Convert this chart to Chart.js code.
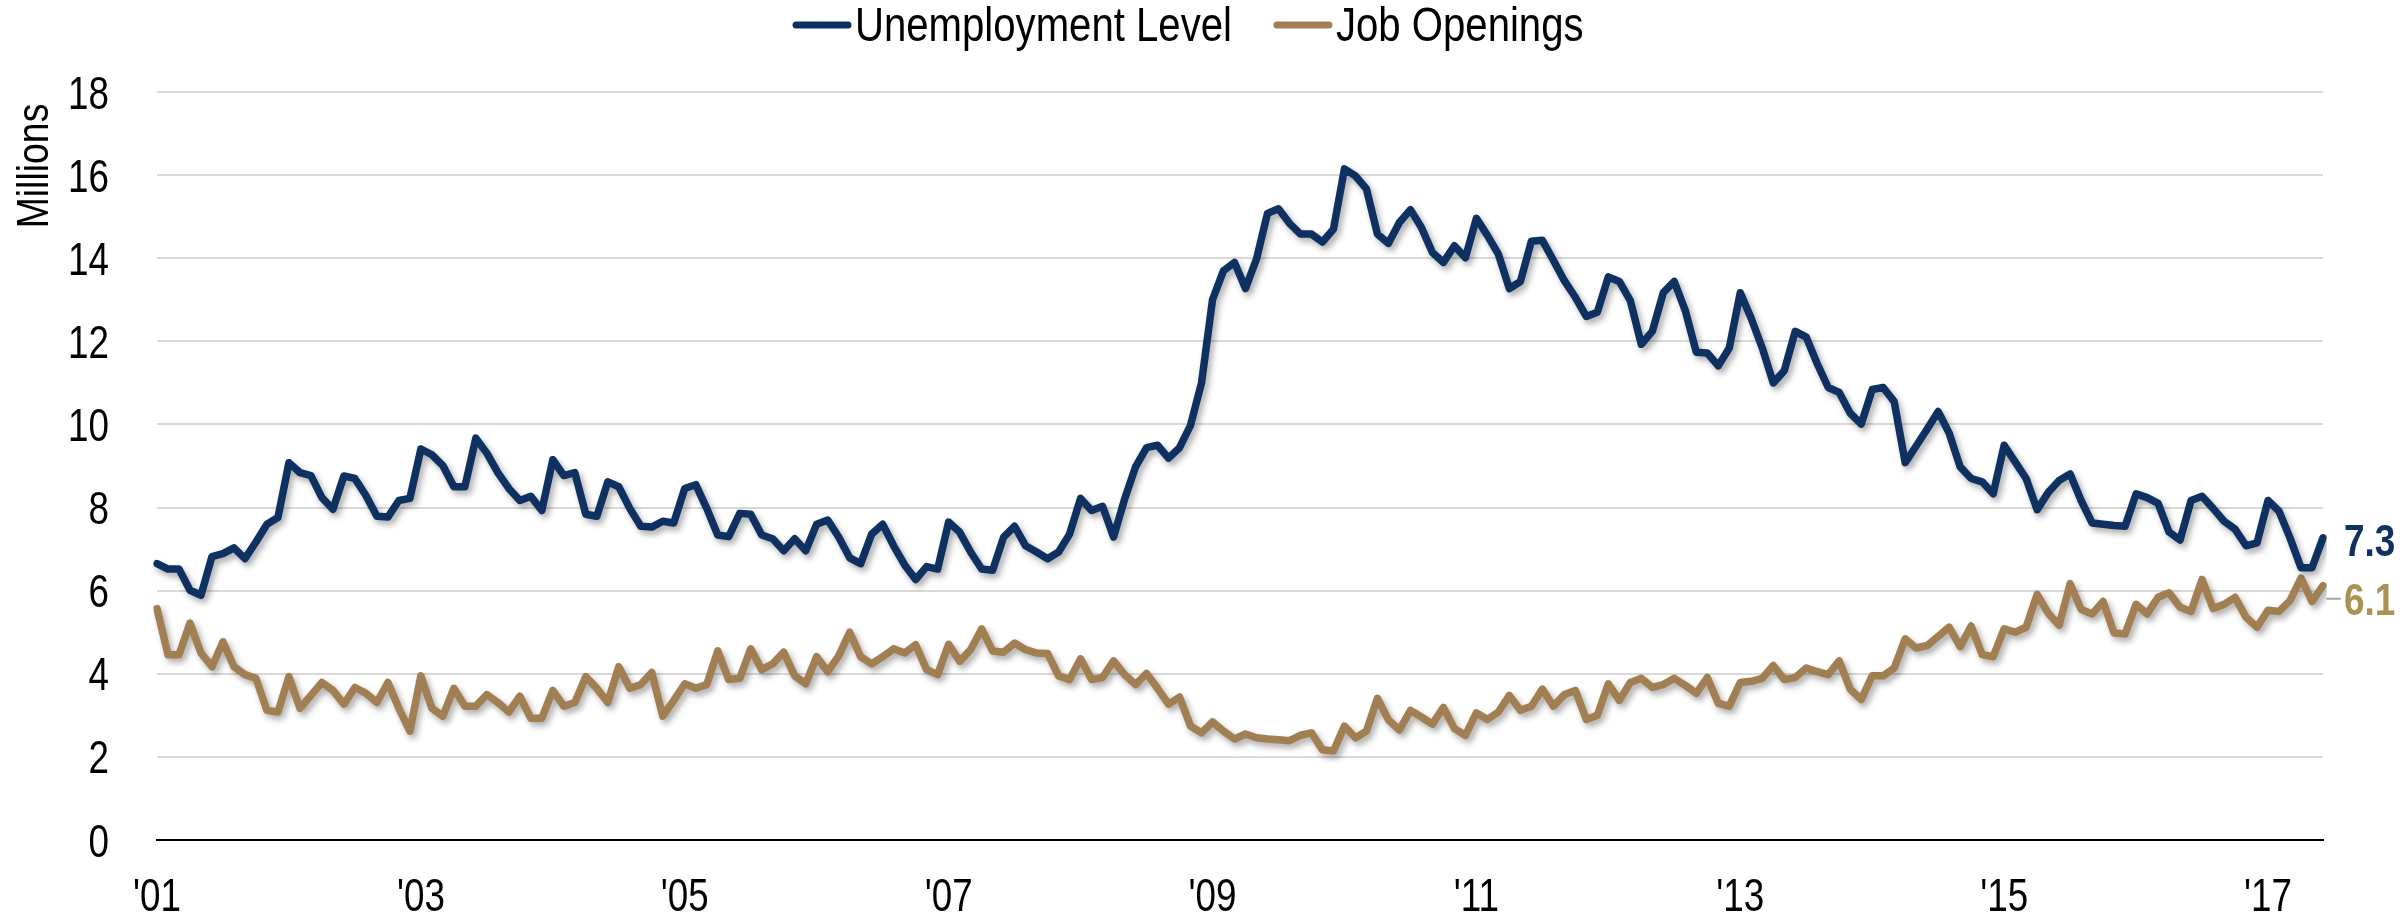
<!DOCTYPE html>
<html>
<head>
<meta charset="utf-8">
<title>Unemployment Level vs Job Openings</title>
<script src="https://cdn.jsdelivr.net/npm/chart.js@4.4.0/dist/chart.umd.min.js"></script>
<style>
  html, body { margin: 0; padding: 0; background: #fff; }
  #wrap { width: 2400px; height: 919px; }
</style>
</head>
<body>
<div id="wrap"><canvas id="jobsChart" width="2400" height="919"></canvas></div>
<script>
// monthly values, millions, jan 2001 - jun 2017
const unemployment = [
  6.65, 6.52, 6.52, 6.01, 5.89, 6.82, 6.89, 7.03, 6.77, 7.17, 7.6, 7.76,
  9.08, 8.84, 8.77, 8.24, 7.96, 8.76, 8.7, 8.29, 7.79, 7.77, 8.17, 8.22,
  9.41, 9.27, 9.01, 8.5, 8.5, 9.67, 9.31, 8.84, 8.46, 8.17, 8.27, 7.93,
  9.15, 8.77, 8.84, 7.84, 7.79, 8.62, 8.5, 7.98, 7.55, 7.53, 7.67, 7.63,
  8.46, 8.55, 7.98, 7.34, 7.3, 7.86, 7.84, 7.34, 7.25, 6.96, 7.25, 6.96,
  7.6, 7.7, 7.29, 6.79, 6.65, 7.36, 7.6, 7.08, 6.62, 6.27, 6.58, 6.52,
  7.65, 7.41, 6.93, 6.52, 6.49, 7.29, 7.55, 7.08, 6.93, 6.77, 6.93, 7.36,
  8.22, 7.93, 8.03, 7.29, 8.2, 8.98, 9.44, 9.5, 9.19, 9.44, 9.98, 11.0,
  13.0, 13.7, 13.9, 13.27, 13.98, 15.08, 15.19, 14.84, 14.58, 14.58, 14.39, 14.7,
  16.15, 15.98, 15.67, 14.58, 14.36, 14.86, 15.17, 14.74, 14.14, 13.9, 14.3, 14.01,
  14.96, 14.55, 14.1, 13.27, 13.44, 14.41, 14.43, 13.95, 13.46, 13.06, 12.6, 12.7,
  13.55, 13.44, 12.98, 11.93, 12.24, 13.17, 13.44, 12.74, 11.74, 11.72, 11.41, 11.84,
  13.17, 12.55, 11.84, 11.0, 11.29, 12.24, 12.1, 11.46, 10.89, 10.77, 10.27, 10.01,
  10.84, 10.89, 10.55, 9.08, 9.48, 9.89, 10.31, 9.79, 8.98, 8.7, 8.62, 8.33,
  9.5, 9.1, 8.7, 7.95, 8.36, 8.65, 8.81, 8.17, 7.63, 7.6, 7.57, 7.55,
  8.33, 8.24, 8.1, 7.41, 7.22, 8.17, 8.27, 7.98, 7.67, 7.48, 7.08, 7.15,
  8.17, 7.91, 7.27, 6.55, 6.55, 7.27
];

const jobOpenings = [
  5.57, 4.46, 4.46, 5.22, 4.5, 4.17, 4.77, 4.17, 3.98, 3.89, 3.12, 3.08,
  3.93, 3.17, 3.48, 3.79, 3.6, 3.27, 3.67, 3.53, 3.31, 3.79, 3.17, 2.62,
  3.95, 3.17, 2.98, 3.65, 3.22, 3.22, 3.5, 3.31, 3.08, 3.46, 2.93, 2.93,
  3.6, 3.22, 3.31, 3.93, 3.65, 3.31, 4.17, 3.65, 3.74, 4.03, 2.98, 3.36,
  3.76, 3.65, 3.74, 4.55, 3.86, 3.89, 4.6, 4.1, 4.24, 4.52, 3.95, 3.76,
  4.41, 4.05, 4.43, 5.0, 4.41, 4.24, 4.41, 4.6, 4.5, 4.7, 4.1, 3.98,
  4.71, 4.3, 4.58, 5.08, 4.55, 4.52, 4.74, 4.58, 4.5, 4.49, 3.95, 3.86,
  4.36, 3.86, 3.91, 4.31, 3.98, 3.74, 4.01, 3.65, 3.27, 3.44, 2.74, 2.58,
  2.84, 2.62, 2.43, 2.55, 2.46, 2.43, 2.41, 2.39, 2.52, 2.58, 2.17, 2.14,
  2.74, 2.46, 2.62, 3.41, 2.89, 2.65, 3.12, 2.96, 2.79, 3.19, 2.68, 2.52,
  3.06, 2.9, 3.08, 3.48, 3.12, 3.22, 3.63, 3.22, 3.5, 3.6, 2.9, 3.0,
  3.76, 3.36, 3.79, 3.89, 3.67, 3.74, 3.89, 3.72, 3.53, 3.91, 3.29, 3.22,
  3.79, 3.82, 3.89, 4.2, 3.86, 3.91, 4.14, 4.05, 3.98, 4.31, 3.63, 3.38,
  3.95, 3.95, 4.14, 4.84, 4.62, 4.68, 4.9, 5.12, 4.65, 5.15, 4.46, 4.41,
  5.08, 5.0, 5.12, 5.91, 5.46, 5.17, 6.17, 5.55, 5.44, 5.74, 4.98, 4.96,
  5.67, 5.44, 5.84, 5.95, 5.6, 5.5, 6.27, 5.57, 5.67, 5.84, 5.36, 5.12,
  5.53, 5.5, 5.76, 6.3, 5.74, 6.12
];

// one label every two years, sitting on january
const tickLabels = ["'01", "'03", "'05", "'07", "'09", "'11", "'13", "'15", "'17"];
const tickEvery = 24;

const months = [];
for (let i = 0; i < unemployment.length; i++) {
  months.push(`${2001 + Math.floor(i / 12)}-${(i % 12) + 1}`);
}

const navy = "#0f3162";
const tan = "#a17f52";
const gold = "#a99253";
const fontFam = "'Liberation Sans', Arial, sans-serif";

// the original text is a squeezed arial, so draw it narrowed
const drawText = (ctx, text, x, y, sx, align) => {
  ctx.save();
  ctx.translate(x, y);
  ctx.scale(sx, 1);
  ctx.textAlign = align;
  ctx.fillText(text, 0, 0);
  ctx.restore();
};

// soft drop shadow under each line like the original
const shadowPlugin = {
  id: "lineShadow",
  beforeDatasetDraw(chart) {
    const ctx = chart.ctx;
    ctx.save();
    ctx.shadowColor = "rgba(0, 0, 0, 0.33)";
    ctx.shadowBlur = 6;
    ctx.shadowOffsetX = 3;
    ctx.shadowOffsetY = 4;
  },
  afterDatasetDraw(chart) {
    chart.ctx.restore();
  },
};

// tick labels, legend, axis title and the end-of-line value labels
const textPlugin = {
  id: "extraText",
  afterDraw(chart) {
    const ctx = chart.ctx;
    const sets = chart.data.datasets;
    const xs = chart.scales.x;
    const ys = chart.scales.y;
    ctx.save();
    ctx.textBaseline = "alphabetic";
    ctx.fillStyle = "#000";

    // y tick labels
    ctx.font = `46px ${fontFam}`;
    ys.ticks.forEach((t) => {
      drawText(ctx, String(t.value), 109, ys.getPixelForValue(t.value) + 16.5, 0.8, "right");
    });

    // x tick labels
    tickLabels.forEach((lab, k) => {
      drawText(ctx, lab, xs.getPixelForValue(k * tickEvery), 911, 0.8, "center");
    });

    // legend on top
    ctx.font = `48px ${fontFam}`;
    const lsx = 0.836, lineLen = 58, gapText = 4, gapItem = 42;
    let x = 793;
    const ly = 25;
    sets.forEach((ds) => {
      ctx.strokeStyle = ds.borderColor;
      ctx.lineWidth = 7;
      ctx.lineCap = "round";
      ctx.beginPath();
      ctx.moveTo(x + 3, ly);
      ctx.lineTo(x + lineLen - 3, ly);
      ctx.stroke();
      x += lineLen + gapText;
      drawText(ctx, ds.label, x, 41, lsx, "left");
      x += ctx.measureText(ds.label).width * lsx + gapItem;
    });

    // y axis title, top aligned
    ctx.save();
    ctx.translate(48, 166);
    ctx.rotate(-Math.PI / 2);
    ctx.font = `44px ${fontFam}`;
    drawText(ctx, "Millions", 0, 0, 0.85, "center");
    ctx.restore();

    // last values at the right end
    const endColors = [navy, gold];
    const endShift = [2, 13];
    ctx.font = `bold 44px ${fontFam}`;
    sets.forEach((ds, i) => {
      const meta = chart.getDatasetMeta(i);
      const pt = meta.data[meta.data.length - 1];
      const val = ds.data[ds.data.length - 1];
      const cy = pt.y + endShift[i];
      if (i === 1) {
        ctx.strokeStyle = "#a6a6a6";
        ctx.lineWidth = 2;
        ctx.beginPath();
        ctx.moveTo(pt.x + 4, cy);
        ctx.lineTo(pt.x + 17, cy);
        ctx.stroke();
      }
      ctx.fillStyle = endColors[i];
      drawText(ctx, val.toFixed(1), pt.x + 21, cy + 16, 0.84, "left");
    });
    ctx.restore();
  },
};

const ctx = document.getElementById("jobsChart");
new Chart(ctx, {
  type: "line",
  data: {
    labels: months,
    datasets: [
      {
        label: "Unemployment Level",
        data: unemployment,
        borderColor: navy,
        backgroundColor: navy,
        borderWidth: 7.5,
        pointRadius: 0,
        tension: 0,
        borderJoinStyle: "round",
        borderCapStyle: "round",
      },
      {
        label: "Job Openings",
        data: jobOpenings,
        borderColor: tan,
        backgroundColor: tan,
        borderWidth: 7.5,
        pointRadius: 0,
        tension: 0,
        borderJoinStyle: "round",
        borderCapStyle: "round",
      },
    ],
  },
  options: {
    responsive: false,
    animation: false,
    devicePixelRatio: 1,
    layout: { padding: { top: 92, right: 77, left: 0, bottom: 0 } },
    plugins: {
      legend: { display: false },
      tooltip: { enabled: false },
    },
    scales: {
      x: {
        offset: false,
        grid: { display: false, drawTicks: false },
        border: { display: true, color: "#000", width: 2 },
        ticks: { display: false, autoSkip: false, maxRotation: 0 },
        afterFit: (scale) => {
          scale.height = 79;
        },
      },
      y: {
        min: 0,
        max: 18,
        grid: {
          drawTicks: false,
          lineWidth: 2,
          color: (c) => (c.tick && c.tick.value === 0 ? "rgba(0,0,0,0)" : "#d9d9d9"),
        },
        border: { display: false },
        ticks: { display: false, stepSize: 2 },
        afterFit: (scale) => {
          scale.width = 157;
        },
      },
    },
  },
  plugins: [shadowPlugin, textPlugin],
});
</script>
</body>
</html>
